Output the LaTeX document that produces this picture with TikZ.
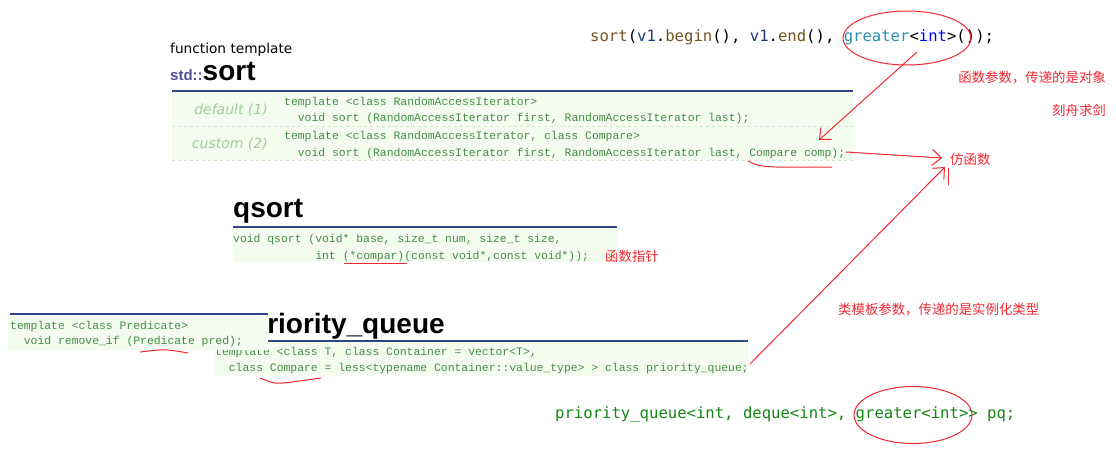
\documentclass[tikz,border=0pt]{standalone}
\usepackage{fontspec}
\setmainfont{Liberation Sans}
\newfontfamily\monof{Liberation Mono}
\newfontfamily\vsf{DejaVu Sans Mono}
\newfontfamily\dvs{DejaVu Sans}
\newfontfamily\cjk{Noto Sans CJK SC}
\usetikzlibrary{arrows.meta,shapes.geometric}
\definecolor{codegreen}{RGB}{70,140,70}
\definecolor{lblgreen}{RGB}{160,205,150}
\definecolor{boxgreen}{RGB}{244,252,239}
\definecolor{barblue}{RGB}{45,70,135}
\definecolor{stdblue}{RGB}{80,80,150}
\definecolor{annred}{RGB}{240,40,50}
\definecolor{vsbrown}{RGB}{116,83,31}
\definecolor{vsvar}{RGB}{31,55,127}
\definecolor{vsteal}{RGB}{43,145,175}
\definecolor{vsblue}{RGB}{0,0,255}
\definecolor{vsgreen}{RGB}{20,135,20}
\begin{document}
\begin{tikzpicture}[x=1pt,y=-1pt,
  code/.style={anchor=base west,inner sep=0,text=codegreen,font=\monof\fontsize{11.4}{13}\selectfont},
  rowlbl/.style={anchor=base east,inner sep=0,text=lblgreen,font=\dvs\itshape\fontsize{14}{16}\selectfont},
  title/.style={anchor=base west,inner sep=0,font=\bfseries\fontsize{28}{32}\selectfont},
  bar/.style={draw=barblue,line width=2.5pt},
  vs/.style={anchor=base west,inner sep=0,font=\vsf\fontsize{15.6}{18}\selectfont},
  ann/.style={anchor=base west,inner sep=0,text=annred,font=\cjk\fontsize{13.4}{16}\selectfont},
  redline/.style={draw=annred,line width=1pt},
  redarrow/.style={draw=annred,line width=1pt,-{Straight Barb[length=9pt,width=16pt,line width=1pt]}},
  redell/.style={draw=annred,line width=1pt,ellipse,inner sep=0}]
\useasboundingbox (0,0) rectangle (1116,458);
\fill[white] (0,0) rectangle (1116,458);

% ---- std::sort ----
\node[anchor=base west,inner sep=0,font=\dvs\fontsize{13.7}{16}\selectfont] (ft) at (170,53) {function template};
\node[anchor=base west,inner sep=0] (sorttitle) at (170,80)
  {{\color{stdblue}\bfseries\fontsize{15}{17}\selectfont std::}{\bfseries\fontsize{28}{32}\selectfont sort}};
\fill[boxgreen] (172,93) rectangle (853,160);
\draw[bar] (172,91) -- (853,91);
\draw[lblgreen!50,dashed,line width=0.5pt] (172,126.5) -- (853,126.5);
\draw[lblgreen!50,dashed,line width=0.5pt] (172,160) -- (853,160);
\node[rowlbl] (def1) at (268,114) {default (1)};
\node[rowlbl] (cus2) at (268,148) {custom (2)};
\node[code] (s1a) at (284,105) {template <class RandomAccessIterator>};
\node[code] (s1b) at (297.7,121) {void sort (RandomAccessIterator first, RandomAccessIterator last);};
\node[code] (s2a) at (284,139) {template <class RandomAccessIterator, class Compare>};
\node[code] (s2b) at (297.7,156) {void sort (RandomAccessIterator first, RandomAccessIterator last, Compare comp);};

% ---- qsort ----
\node[title] (qtitle) at (233,217) {qsort};
\fill[boxgreen] (233,229) rectangle (617,262);
\draw[bar] (233,227) -- (617,227);
\node[code] (q1) at (233,242) {void qsort (void* base, size\_t num, size\_t size,};
\node[code] (q2) at (315.2,259) {int (*compar)(const void*,const void*));};

% ---- priority_queue ----
\node[title] (pqtitle) at (250,333) {priority\_queue};
\fill[boxgreen] (215,343) rectangle (748,376);
\draw[bar] (215,341) -- (748,341);
\node[code] (p1) at (215,355) {template <class T, class Container = vector<T>,};
\node[code] (p2) at (228.7,371) {class Compare = less<typename Container::value\_type> > class priority\_queue;};

% ---- remove_if (overlapping box) ----
\fill[boxgreen] (8,316) rectangle (268,349.5);
\draw[bar] (10,314) -- (268,314);
\node[code] (r1) at (10,329) {template <class Predicate>};
\node[code] (r2) at (23.7,344) {void remove\_if (Predicate pred);};

% ---- VS code lines ----
\node[vs] (top) at (590,41) {\textcolor{vsbrown}{sort}(\textcolor{vsvar}{v1}.\textcolor{vsbrown}{begin}(), \textcolor{vsvar}{v1}.\textcolor{vsbrown}{end}(), \textcolor{vsteal}{greater}<\textcolor{vsblue}{int}>());};
\node[vs,text=vsgreen] (bot) at (555,418) {priority\_queue<int, deque<int>, greater<int>> pq;};

% ---- annotations ----
\node[ann,anchor=base east] (obj) at (1106,82) {函数参数，传递的是对象};
\node[ann,anchor=base east] (kz) at (1106,115) {刻舟求剑};
\node[ann] (fhs) at (950,164) {仿函数};
\node[ann] (fzz) at (605,261) {函数指针};
\node[ann] (ltp) at (838,314) {类模板参数，传递的是实例化类型};

\node[redell,minimum width=128pt,minimum height=54pt] (e1) at (907,38) {};
\node[redell,minimum width=118pt,minimum height=57pt] (e2) at (913,415) {};

\coordinate (a1s) at (917,52);
\coordinate (t1) at (819,140);
\coordinate (cmpend) at (846,152);
\coordinate (t2) at (942,158);
\coordinate (pqend) at (750,364);
\coordinate (t3) at (945,167);
\coordinate (vs1) at (948,168);
\coordinate (vs2) at (948,185);

\draw[redarrow] (a1s) -- (t1);
\draw[redarrow] (cmpend) -- (t2);
\draw[redarrow] (pqend) -- (t3);
\draw[redline] (vs1) -- (vs2);

% underlines
\draw[redline] (748,161) .. controls (758,166) .. (776,167) -- (832,167);
\draw[redline] (344,263.5) -- (407,263.5);
\draw[redline] (140,352) .. controls (165,349) .. (188,353);
\draw[redline] (260,378) .. controls (275,384) .. (292,382) -- (321,378);
\end{tikzpicture}
\end{document}
